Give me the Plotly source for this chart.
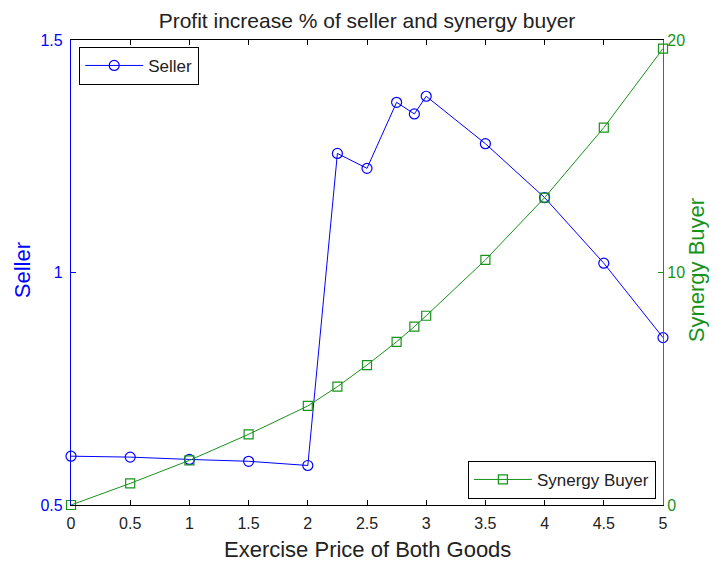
import plotly.graph_objects as go

# Data
exercise_price = [0, 0.5, 1, 1.5, 2, 2.25, 2.5, 2.75, 2.9, 3, 3.5, 4, 4.5, 5]
seller = [0.605, 0.603, 0.598, 0.594, 0.585, 1.256, 1.224, 1.366, 1.341, 1.379, 1.277, 1.161, 1.020, 0.860]
synergy_buyer = [0.0, 0.93, 1.92, 3.04, 4.26, 5.09, 6.02, 7.02, 7.67, 8.14, 10.54, 13.22, 16.23, 19.63]

x_ticks = [0, 0.5, 1, 1.5, 2, 2.5, 3, 3.5, 4, 4.5, 5]
x_ticktext = ["0", "0.5", "1", "1.5", "2", "2.5", "3", "3.5", "4", "4.5", "5"]
y1_ticks = [0.5, 1, 1.5]
y1_ticktext = ["0.5", "1", "1.5"]
y2_ticks = [0, 10, 20]
y2_ticktext = ["0", "10", "20"]

BLUE = "#0000ff"
GREEN = "#17921a"
TXT = "#222222"
FONT = "Liberation Sans, Arial, sans-serif"

W, H = 709, 555
L, R, T, B = 63, 54, 32, 58
PW, PH = W - L - R, H - T - B

fig = go.Figure()
fig.add_trace(go.Scatter(
    x=exercise_price, y=seller, name="Seller", mode="lines+markers",
    line=dict(color=BLUE, width=1),
    marker=dict(symbol="circle-open", size=10, color=BLUE, line=dict(width=1.2)),
    cliponaxis=False, legend="legend", yaxis="y"))
fig.add_trace(go.Scatter(
    x=exercise_price, y=synergy_buyer, name="Synergy Buyer", mode="lines+markers",
    line=dict(color=GREEN, width=1),
    marker=dict(symbol="square-open", size=9, color=GREEN, line=dict(width=1.2)),
    cliponaxis=False, legend="legend2", yaxis="y2"))

fig.update_layout(
    width=W, height=H,
    margin=dict(l=L, r=R, t=T, b=B),
    paper_bgcolor="white", plot_bgcolor="white",
    font=dict(family=FONT, size=16, color=TXT),
    showlegend=True,
    title=dict(text="Profit increase % of seller and synergy buyer",
               x=0.5, xref="paper", xanchor="center",
               y=1 - 12.5 / H, yref="container", yanchor="middle",
               font=dict(size=21, color=TXT)),
    xaxis=dict(range=[0, 5], tickvals=x_ticks, ticktext=x_ticktext,
               showline=True, linecolor="black", linewidth=1.2, mirror="ticks",
               ticks="inside", ticklen=5, tickcolor="black",
               showgrid=False, zeroline=False, ticklabelstandoff=4,
               tickfont=dict(size=16, color=TXT)),
    yaxis=dict(range=[0.5, 1.5], tickvals=y1_ticks, ticktext=y1_ticktext,
               showline=True, linecolor=BLUE, linewidth=1.2,
               ticks="inside", ticklen=5, tickcolor=BLUE,
               showgrid=False, zeroline=False, ticklabelstandoff=4,
               tickfont=dict(size=16, color=BLUE)),
    yaxis2=dict(range=[0, 20], tickvals=y2_ticks, ticktext=y2_ticktext,
                overlaying="y", side="right",
                showline=True, linecolor=GREEN, linewidth=1.2,
                ticks="inside", ticklen=5, tickcolor=GREEN,
                showgrid=False, zeroline=False,
                tickfont=dict(size=16, color=GREEN)),
    legend=dict(x=(71 - L) / PW, y=(H - B - 38.7) / PH, xanchor="left", yanchor="top",
                bgcolor="white", bordercolor="black", borderwidth=1.2,
                itemwidth=58,
                font=dict(size=17, color=TXT)),
    legend2=dict(x=(647.7 - L) / PW, y=(H - B - 490.7) / PH, xanchor="right", yanchor="bottom",
                 bgcolor="white", bordercolor="black", borderwidth=1.2,
                 itemwidth=58,
                 font=dict(size=17, color=TXT)),
    annotations=[
        dict(text="Exercise Price of Both Goods", x=0.5, xref="paper", xanchor="center",
             y=-(541 - (H - B)) / PH, yref="paper", yanchor="middle",
             showarrow=False, font=dict(size=22, color=TXT)),
        dict(text="Seller", x=(14 - L) / PW, xref="paper", xanchor="center",
             y=0.505, yref="paper", yanchor="middle",
             showarrow=False, textangle=-90, font=dict(size=22, color=BLUE)),
        dict(text="Synergy Buyer", x=(688 - L) / PW, xref="paper", xanchor="center",
             y=0.505, yref="paper", yanchor="middle",
             showarrow=False, textangle=-90, font=dict(size=22, color=GREEN)),
    ],
)

fig.write_html("out.html")
